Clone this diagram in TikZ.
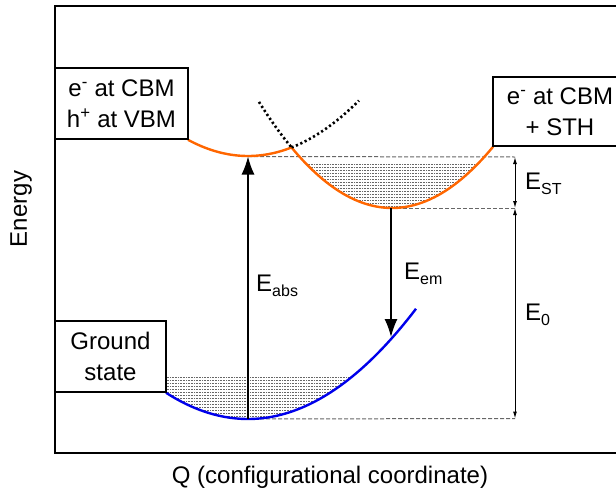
\documentclass[tikz,border=0pt]{standalone}
\usepackage{fontspec}
\setmainfont{Liberation Sans}
\usetikzlibrary{arrows.meta}
\definecolor{excorange}{RGB}{255,102,0}
\definecolor{gndblue}{RGB}{0,0,235}
\newcommand{\lsub}[1]{\raisebox{-5pt}{\fontsize{16}{16}\selectfont #1}}
\tikzset{
  statebox/.style={draw, line width=2pt, fill=white, align=center, inner sep=0pt, font=\fontsize{24}{31}\selectfont},
  lbl/.style={inner sep=0pt, font=\fontsize{24}{29}\selectfont},
  level/.style={black!60, dash pattern=on 4pt off 2pt, line width=1pt},
  hatch/.style={black!60, line width=0.45pt, dash pattern=on 0.8pt off 0.8pt},
  bigarrow/.style={line width=1.5pt, -{Latex[length=18pt,width=13pt]}},
  gaparrow/.style={line width=1pt, {Latex[length=7pt,width=4pt]}-{Latex[length=7pt,width=4pt]}},
  pes/.style={line width=2.4pt},
  ghost/.style={line width=2.6pt, dash pattern=on 2.2pt off 2.6pt}
}
\begin{document}
\begin{tikzpicture}[x=1pt,y=-1pt]
  \useasboundingbox (0,0) rectangle (616,490);
  \draw[line width=2.5pt] (55,6) rectangle (640,453);
  % vibrational levels
  \begin{scope}
    \clip plot[domain=300:485,samples=40] (\x,{208-0.006*(\x-392)*(\x-392)}) -- cycle;
    \foreach \y in {164,167,...,206} \draw[hatch] (290,\y) -- (490,\y);
  \end{scope}
  \begin{scope}
    \clip plot[domain=140:360,samples=40] (\x,{419-0.0039*(\x-248)*(\x-248)}) -- cycle;
    \foreach \y in {377,380,...,416} \draw[hatch] (130,\y) -- (370,\y);
  \end{scope}
  \coordinate (gsmin) at (248,419);
  \coordinate (cbmmin) at (248,156.5);
  \coordinate (sthmin) at (391,208);
  \coordinate (emend) at (391,337);
  \coordinate (sttop) at (515,157);
  \coordinate (stbot) at (515,208);
  \coordinate (e0bot) at (515,418.5);
  \draw[level] (cbmmin) -- (sttop);
  \draw[level] (sthmin) -- (stbot);
  \draw[level] (gsmin) -- (e0bot);
  \draw[pes, excorange] plot[domain=188:291.5,samples=40] (\x,{156-0.0045*(\x-248)*(\x-248)})
    -- plot[domain=291.5:493,samples=60] (\x,{208-0.006*(\x-392)*(\x-392)});
  \draw[ghost] plot[domain=259:291.5,samples=20] (\x,{208-0.006*(\x-392)*(\x-392)});
  \draw[ghost] plot[domain=291.5:359,samples=30] (\x,{156-0.0045*(\x-248)*(\x-248)});
  \draw[pes, gndblue] plot[domain=166:416,samples=60] (\x,{419-0.0039*(\x-248)*(\x-248)});
  \draw[bigarrow] (gsmin) -- (cbmmin);
  \draw[bigarrow] (sthmin) -- (emend);
  \draw[gaparrow] (sttop) -- (stbot);
  \draw[gaparrow] (stbot) -- (e0bot);
  \node[statebox, minimum width=133pt, minimum height=71pt] (exciton) at (121.5,103.5) {e\textsuperscript{-} at CBM\\h\textsuperscript{+} at VBM};
  \node[statebox, minimum width=134pt, minimum height=69pt] (selftrap) at (560,111.5) {e\textsuperscript{-} at CBM\\+ STH};
  \node[statebox, minimum width=111pt, minimum height=71pt] (ground) at (110.5,356.5) {Ground\\state};
  \node[lbl, anchor=base west] (eabs) at (256,291) {E\lsub{abs}};
  \node[lbl, anchor=base west] (eem) at (404,279) {E\lsub{em}};
  \node[lbl, anchor=base west] (est) at (525,189) {E\lsub{ST}};
  \node[lbl, anchor=base west] (ezero) at (525,320) {E\lsub{0}};
  \node[lbl, rotate=90] (energy) at (21,209) {Energy};
  \node[lbl, anchor=base] (qaxis) at (330,483) {Q (configurational coordinate)};
\end{tikzpicture}
\end{document}
